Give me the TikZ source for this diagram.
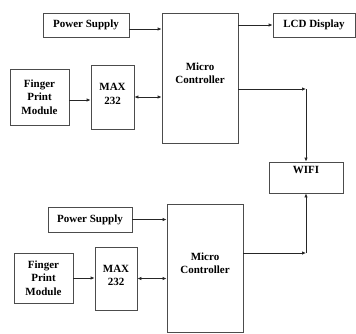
\documentclass[tikz,border=0pt]{standalone}
\usepackage{fontspec}
\setmainfont{Liberation Serif}
\usepackage{tikz}
\usetikzlibrary{calc}
\usetikzlibrary{positioning}
\usetikzlibrary{arrows.meta}
\definecolor{edge}{rgb}{0.3,0.3,0.3}

\begin{document}
\begin{tikzpicture}[x=1pt, y=-1pt,
		b/.style = {rectangle, draw=edge, line width=0.8pt, align=center, inner sep=1pt, font=\fontsize{11}{13.3}\selectfont\bfseries},
		r/.style = {-{Latex[length=4pt,width=3.5pt]}, draw=black!85, line width=0.8pt},
		rr/.style = {{Latex[length=4pt,width=3.5pt]}-{Latex[length=4pt,width=3.5pt]}, draw=black!85, line width=0.8pt}
		]
		\useasboundingbox (0,0) rectangle (356,333);
		
		%Nodes
		\node[b, minimum width=86, minimum height=24]	(ps1)	at	(86, 25)		{Power Supply};
		\node[b, minimum width=76, minimum height=130, text depth=10pt]	(mc1)	at	(200, 78)		{Micro\\Controller};
		\node[b, minimum width=82, minimum height=24]	(lcd)	at	(314, 25)		{LCD Display};
		\node[b, minimum width=59, minimum height=56]	(fp1)	at	(39.5, 97)		{Finger\\Print\\Module};
		\node[b, minimum width=43, minimum height=64, text depth=6pt]	(max1)	at	(112.5, 97)		{MAX\\232};
		\node[b, minimum width=74, minimum height=31, text depth=16pt]	(wifi)	at	(306, 177.5)	{WIFI};
		\node[b, minimum width=84, minimum height=25]	(ps2)	at	(90, 219.5)		{Power Supply};
		\node[b, minimum width=76, minimum height=128, text depth=10pt]	(mc2)	at	(205, 268)		{Micro\\Controller};
		\node[b, minimum width=59, minimum height=50]	(fp2)	at	(43.5, 278)		{Finger\\Print\\Module};
		\node[b, minimum width=42, minimum height=63, text depth=6pt]	(max2)	at	(116, 278.5)	{MAX\\232};
		\coordinate	(c1)	at	(306, 89);
		\coordinate	(c2)	at	(306, 253);
		
		%Lines
		\draw[r]	([yshift=-4pt]ps1.east)	to	([yshift=-4pt]ps1.east -| mc1.west);
		\draw[r]	(mc1.east |- lcd.west)	to	(lcd.west);
		\draw[r]	([yshift=-3pt]fp1.east)	to	([yshift=-3pt]fp1.east -| max1.west);
		\draw[rr]	(max1.east)	to	(max1.east -| mc1.west);
		\draw[r]	(c1 -| mc1.east)	to	(c1);
		\draw[r]	(c1)	to	(wifi.north);
		\draw[r]	(ps2.east)	to	(ps2.east -| mc2.west);
		\draw[r]	(fp2.east)	to	(fp2.east -| max2.west);
		\draw[rr]	(max2.east)	to	(max2.east -| mc2.west);
		\draw[r]	(c2 -| mc2.east)	to	(c2);
		\draw[r]	(c2)	to	(wifi.south);
	\end{tikzpicture}
\end{document}
